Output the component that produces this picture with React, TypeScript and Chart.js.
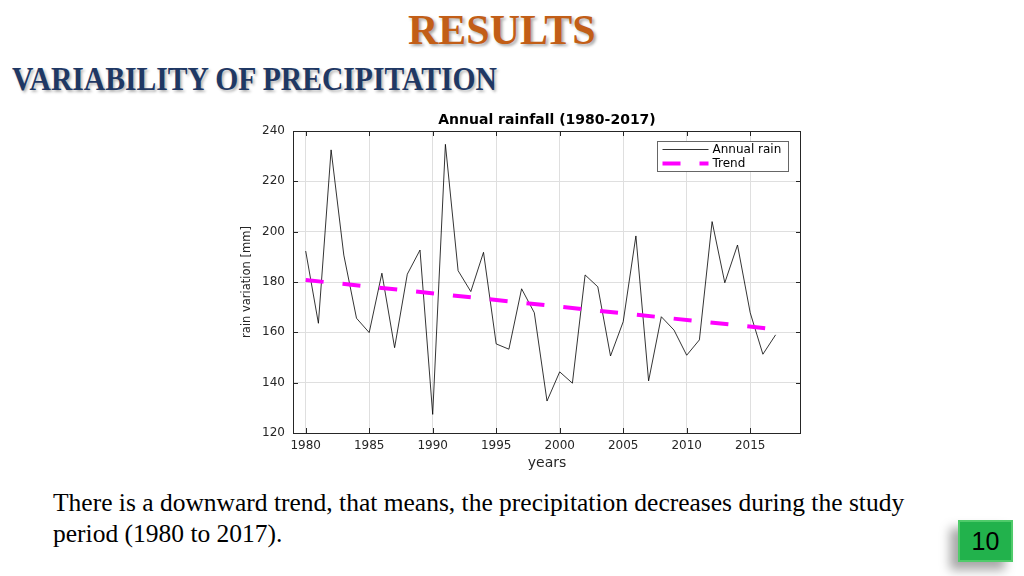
import React, { useEffect, useRef } from "react";
import { Chart, registerables } from "chart.js";

Chart.register(...registerables);

// ---- data ----
const years = [
  1980, 1981, 1982, 1983, 1984, 1985, 1986, 1987, 1988, 1989,
  1990, 1991, 1992, 1993, 1994, 1995, 1996, 1997, 1998, 1999,
  2000, 2001, 2002, 2003, 2004, 2005, 2006, 2007, 2008, 2009,
  2010, 2011, 2012, 2013, 2014, 2015, 2016, 2017,
];
const annualRain = [
  192.3, 163.6, 232.5, 190.7, 165.6, 159.9, 183.5, 153.9, 183.1, 192.7,
  127.4, 234.7, 184.5, 176.2, 191.8, 155.4, 153.3, 177.3, 167.8, 132.7,
  144.3, 139.8, 182.8, 178.1, 150.6, 164.2, 198.3, 140.7, 166.2, 160.9,
  150.9, 157.0, 204.0, 179.7, 194.7, 167.8, 151.3, 159.0,
];
const trendYears = [1980, 2017];
const trendValues = [180.8, 161.2];
const xTicks = [1980, 1985, 1990, 1995, 2000, 2005, 2010, 2015];
const yTicks = [120, 140, 160, 180, 200, 220, 240];

const chartTitle = "Annual rainfall (1980-2017)";
const xTitle = "years";
const yTitle = "rain variation [mm]";
const seriesLabels = ["Annual rain", "Trend"];

const textColor = "#262626";
const gridColor = "#dfdfdf";
const FONT = "DejaVu Sans";

const framePlugin = {
  id: "matlabFrame",
  afterDraw(chart: any) {
    const { ctx, chartArea: ca, scales } = chart;
    const xs = scales.x;
    const ys = scales.y;
    ctx.save();
    // box
    ctx.strokeStyle = textColor;
    ctx.lineWidth = 1;
    ctx.strokeRect(ca.left + 0.5, ca.top + 0.5, ca.right - ca.left - 1, ca.bottom - ca.top);
    // inward ticks
    ctx.beginPath();
    xTicks.forEach((v) => {
      const px = Math.round(xs.getPixelForValue(v)) + 0.5;
      ctx.moveTo(px, ca.bottom);
      ctx.lineTo(px, ca.bottom - 5);
      ctx.moveTo(px, ca.top);
      ctx.lineTo(px, ca.top + 5);
    });
    yTicks.forEach((v) => {
      const py = Math.round(ys.getPixelForValue(v)) + 0.5;
      ctx.moveTo(ca.left, py);
      ctx.lineTo(ca.left + 5, py);
      ctx.moveTo(ca.right, py);
      ctx.lineTo(ca.right - 5, py);
    });
    ctx.stroke();

    // title
    ctx.fillStyle = "#000";
    ctx.font = `bold 14px "${FONT}"`;
    ctx.textAlign = "center";
    ctx.textBaseline = "middle";
    ctx.fillText(chartTitle, (ca.left + ca.right) / 2, ca.top - 10.5);

    // legend
    const bw = 131;
    const bh = 30;
    const bx = Math.round(ca.right - 144) + 0.5;
    const by = Math.round(ca.top + 10) + 0.5;
    ctx.fillStyle = "#fff";
    ctx.fillRect(bx, by, bw, bh);
    ctx.strokeStyle = "#666";
    ctx.lineWidth = 1;
    ctx.strokeRect(bx, by, bw, bh);
    const ds = chart.data.datasets;
    const rows = [by + 8, by + 22];
    ds.forEach((d: any, i: number) => {
      const ry = rows[i];
      ctx.save();
      ctx.strokeStyle = d.borderColor;
      ctx.lineWidth = d.borderWidth;
      ctx.lineCap = "butt";
      ctx.setLineDash(d.borderDash || []);
      ctx.beginPath();
      ctx.moveTo(bx + 5, ry);
      ctx.lineTo(bx + 51, ry);
      ctx.stroke();
      ctx.restore();
      ctx.fillStyle = "#000";
      ctx.font = `12px "${FONT}"`;
      ctx.textAlign = "left";
      ctx.textBaseline = "middle";
      ctx.fillText(d.label, bx + 55, ry);
    });
    ctx.restore();
  },
};

function RainChart() {
  const ref = useRef<HTMLCanvasElement | null>(null);
  useEffect(() => {
    if (!ref.current) return;
    const chart = new Chart(ref.current, {
      type: "line",
      data: {
        datasets: [
          {
            label: seriesLabels[0],
            data: years.map((y, i) => ({ x: y, y: annualRain[i] })),
            borderColor: "#000000",
            borderWidth: 0.8,
            pointRadius: 0,
            tension: 0,
            fill: false,
            order: 1,
          },
          {
            label: seriesLabels[1],
            data: trendYears.map((y, i) => ({ x: y, y: trendValues[i] })),
            borderColor: "#ff00ff",
            borderWidth: 4,
            borderDash: [18, 19],
            borderCapStyle: "butt",
            pointRadius: 0,
            tension: 0,
            fill: false,
            order: 0,
          },
        ],
      },
      options: {
        animation: false,
        responsive: false,
        events: [],
        layout: { padding: { top: 23, right: 19, bottom: 0, left: 0 } },
        plugins: {
          legend: { display: false },
          title: { display: false },
          tooltip: { enabled: false },
        },
        scales: {
          x: {
            type: "linear",
            min: 1979,
            max: 2019,
            afterBuildTicks: (s: any) => {
              s.ticks = xTicks.map((v) => ({ value: v }));
            },
            afterFit: (s: any) => {
              s.height = 45;
            },
            grid: { color: gridColor, drawTicks: false, lineWidth: 1 },
            border: { display: false },
            ticks: {
              padding: 6,
              color: textColor,
              font: { family: FONT, size: 12 },
              maxRotation: 0,
              autoSkip: false,
              callback: (v: any) => String(v),
            },
            title: {
              display: true,
              text: xTitle,
              color: textColor,
              font: { family: FONT, size: 14 },
              padding: { top: 0, bottom: 6 },
            },
          },
          y: {
            type: "linear",
            min: 120,
            max: 240,
            afterBuildTicks: (s: any) => {
              s.ticks = yTicks.map((v) => ({ value: v }));
            },
            afterFit: (s: any) => {
              s.width = 63;
            },
            grid: { color: gridColor, drawTicks: false, lineWidth: 1 },
            border: { display: false },
            ticks: {
              padding: 8,
              color: textColor,
              font: { family: FONT, size: 12 },
              callback: (v: any) => String(v),
            },
            title: {
              display: true,
              text: yTitle,
              color: textColor,
              font: { family: FONT, size: 11.5 },
              padding: { top: 10, bottom: 0 },
            },
          },
        },
      } as any,
      plugins: [framePlugin],
    });
    return () => chart.destroy();
  }, []);
  return (
    <canvas
      ref={ref}
      width={590}
      height={370}
      style={{ position: "absolute", left: 230, top: 108, width: 590, height: 370, display: "block" }}
    />
  );
}

export default function App() {
  return (
    <div
      style={{
        position: "fixed",
        left: 0,
        top: 0,
        width: 1024,
        height: 576,
        overflow: "hidden",
        background: "#ffffff",
        fontFamily: '"Liberation Serif", "Times New Roman", serif',
      }}
    >
      <div
        style={{
          position: "absolute",
          left: 408,
          top: 9,
          fontSize: 42,
          lineHeight: "42px",
          fontWeight: "bold",
          color: "#C25E17",
          whiteSpace: "nowrap",
          textShadow: "2px 2px 3px rgba(0,0,0,0.35)",
        }}
      >
        RESULTS
      </div>
      <div
        style={{
          position: "absolute",
          left: 12,
          top: 62,
          fontSize: 34,
          lineHeight: "34px",
          fontWeight: "bold",
          color: "#1F3864",
          whiteSpace: "nowrap",
          transform: "scaleX(0.871)",
          transformOrigin: "left top",
          textShadow: "2px 2px 3px rgba(0,0,0,0.3)",
        }}
      >
        VARIABILITY OF PRECIPITATION
      </div>
      <RainChart />
      <div
        style={{
          position: "absolute",
          left: 53,
          top: 487,
          fontSize: 25.5,
          lineHeight: "31px",
          color: "#000",
          whiteSpace: "nowrap",
        }}
      >
        <div>There is a downward trend, that means, the precipitation decreases during the study</div>
        <div>period (1980 to 2017).</div>
      </div>
      <div
        style={{
          position: "absolute",
          left: 958,
          top: 520,
          width: 55,
          height: 42,
          boxSizing: "border-box",
          background: "#22B24C",
          border: "2px solid #4FCB6A",
          boxShadow: "-8px 8px 10px rgba(0,0,0,0.35)",
          display: "flex",
          alignItems: "center",
          justifyContent: "center",
          fontFamily: '"Liberation Sans", Arial, sans-serif',
          fontSize: 25,
          color: "#000",
        }}
      >
        10
      </div>
    </div>
  );
}
